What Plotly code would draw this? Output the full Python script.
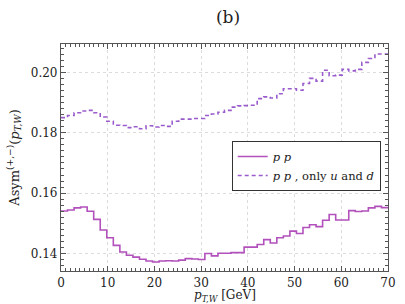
import numpy as np
import plotly.graph_objects as go

# bin edges (50 bins of 1.4 GeV from 0 to 70)
x_min, x_max, n_bins = 0.0, 70.0, 50
edges = np.linspace(x_min, x_max, n_bins + 1)

asym_pp = [
    0.1541, 0.1544, 0.1551, 0.1554, 0.1540, 0.1513, 0.1478, 0.1452, 0.1427, 0.1405,
    0.1394, 0.1388, 0.1381, 0.1375, 0.1372, 0.1375, 0.1376, 0.1375, 0.1378, 0.1383,
    0.1382, 0.1380, 0.1400, 0.1392, 0.1401, 0.1401, 0.1403, 0.1403, 0.1421, 0.1421,
    0.1430, 0.1446, 0.1435, 0.1452, 0.1458, 0.1474, 0.1466, 0.1486, 0.1495, 0.1489,
    0.1510, 0.1529, 0.1511, 0.1511, 0.1542, 0.1539, 0.1541, 0.1551, 0.1556, 0.1552,
]

asym_ud = [
    0.1850, 0.1857, 0.1866, 0.1872, 0.1874, 0.1866, 0.1852, 0.1838, 0.1825, 0.1824,
    0.1817, 0.1820, 0.1813, 0.1823, 0.1819, 0.1824, 0.1821, 0.1838, 0.1845, 0.1845,
    0.1847, 0.1847, 0.1857, 0.1862, 0.1868, 0.1874, 0.1885, 0.1889, 0.1890, 0.1891,
    0.1913, 0.1919, 0.1915, 0.1929, 0.1946, 0.1946, 0.1941, 0.1963, 0.1980, 0.1971,
    0.2007, 0.1989, 0.1991, 0.2010, 0.2005, 0.2010, 0.2033, 0.2046, 0.2061, 0.2061,
]

x_ticks = [0, 10, 20, 30, 40, 50, 60, 70]
y_ticks = [0.14, 0.16, 0.18, 0.20]
y_tick_labels = ["0.14", "0.16", "0.18", "0.20"]

name_pp = "<i>p p</i>"
name_ud = "<i>p p</i> , only <i>u</i> and <i>d</i>"
x_title = "<i>p</i><sub><i>T,W</i></sub> [GeV]"
y_title = "Asym<sup>(+,−)</sup>(<i>p</i><sub><i>T,W</i></sub>)"

font_family = "DejaVu Serif"
text_color = "#222222"

fig = go.Figure()
fig.add_trace(go.Scatter(
    x=edges, y=asym_pp + [asym_pp[-1]], mode="lines", line_shape="hv",
    line=dict(color="#b250bc", width=1.6), name=name_pp,
))
fig.add_trace(go.Scatter(
    x=edges, y=asym_ud + [asym_ud[-1]], mode="lines", line_shape="hv",
    line=dict(color="#9a5ccc", width=1.6, dash="4px,3px"), name=name_ud,
))

axis_common = dict(
    showline=True, linecolor="#555555", linewidth=1.2, mirror="allticks",
    ticks="inside", ticklen=5, tickcolor="#555555", tickwidth=1,
    showgrid=True, gridcolor="#dcdcdc", griddash="dot", gridwidth=1,
    zeroline=False,
    tickfont=dict(family=font_family, size=12, color=text_color),
)

fig.update_xaxes(
    range=[x_min, x_max], tickvals=x_ticks,
    minor=dict(dtick=1, ticks="inside", ticklen=2.5, tickcolor="#555555", showgrid=False),
    **axis_common,
)
fig.update_yaxes(
    range=[0.1342, 0.2094], tickvals=y_ticks, ticktext=y_tick_labels,
    minor=dict(dtick=0.002, ticks="inside", ticklen=2.5, tickcolor="#555555", showgrid=False),
    title=dict(text=y_title, standoff=8,
               font=dict(family=font_family, size=13, color=text_color)),
    **axis_common,
)

fig.add_annotation(
    text=x_title, xref="paper", yref="paper", x=0.5, y=-0.111,
    xanchor="center", yanchor="middle", showarrow=False,
    font=dict(family=font_family, size=12, color=text_color),
)

fig.update_layout(
    width=405, height=304,
    margin=dict(l=61, r=9, t=44, b=33),
    paper_bgcolor="white", plot_bgcolor="white",
    font=dict(family=font_family, color=text_color),
    title=dict(text="(b)", x=0.563, xanchor="center", y=0.945, yanchor="middle",
               font=dict(family=font_family, size=17, color=text_color)),
    showlegend=True,
    legend=dict(
        x=0.522, y=0.573, xanchor="left", yanchor="top",
        bgcolor="white", bordercolor="#333333", borderwidth=1,
        font=dict(family=font_family, size=11.5, color=text_color),
        tracegroupgap=0, itemwidth=30,
    ),
)

fig.write_html("out.html", config={"displayModeBar": False},
               post_script="document.body.style.margin='0';")
